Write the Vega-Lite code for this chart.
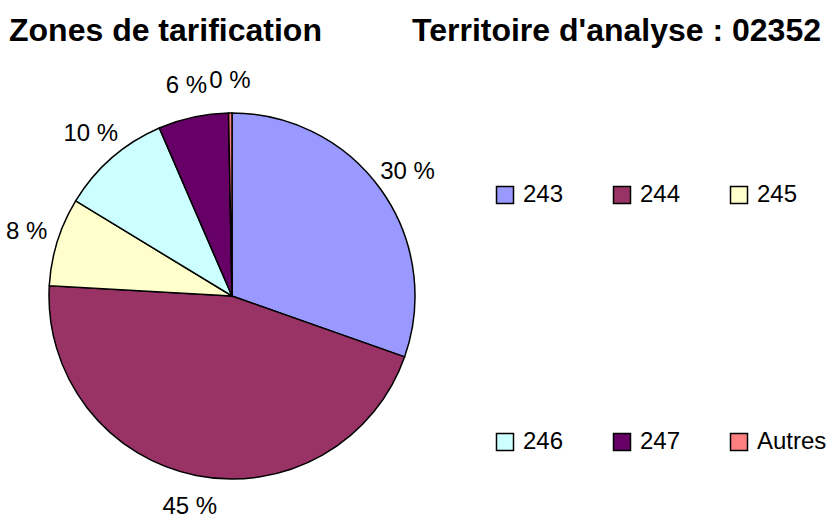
{
  "$schema": "https://vega.github.io/schema/vega-lite/v6.json",
  "autosize": {"type": "none"},
  "width": 464,
  "height": 440,
  "padding": {"left": 0, "top": 76, "right": 366, "bottom": 0},
  "background": "white",
  "title": {
    "text": "Zones de tarification",
    "anchor": "start",
    "frame": "group",
    "font": "Liberation Sans",
    "fontSize": 32,
    "fontWeight": "bold",
    "color": "black",
    "dx": 9,
    "offset": -32
  },
  "data": {
    "values": [
      {"zone": "243", "pct": 30.4, "rank": 1, "label": "30 %"},
      {"zone": "244", "pct": 45.5, "rank": 2, "label": "45 %"},
      {"zone": "245", "pct": 7.8, "rank": 3, "label": "8 %"},
      {"zone": "246", "pct": 9.8, "rank": 4, "label": "10 %"},
      {"zone": "247", "pct": 6.2, "rank": 5, "label": "6 %"},
      {"zone": "Autres", "pct": 0.3, "rank": 6, "label": "0 %"}
    ]
  },
  "encoding": {
    "theta": {"field": "pct", "type": "quantitative", "stack": true},
    "order": {"field": "rank", "type": "quantitative", "sort": "ascending"}
  },
  "layer": [
    {
      "mark": {"type": "arc", "outerRadius": 183, "stroke": "black", "strokeWidth": 1.5},
      "encoding": {
        "fill": {
          "field": "zone",
          "type": "nominal",
          "scale": {
            "domain": ["243", "244", "245", "246", "247", "Autres"],
            "range": ["#9999FF", "#993366", "#FFFFCC", "#CCFFFF", "#660066", "#FF8080"]
          },
          "legend": {
            "title": "Territoire d'analyse : 02352",
            "orient": "none",
            "legendX": 412,
            "legendY": -60,
            "direction": "horizontal",
            "columns": 3,
            "padding": 0,
            "titleFont": "Liberation Sans",
            "titleFontSize": 32,
            "titleFontWeight": "bold",
            "titleColor": "black",
            "titlePadding": 135,
            "titleLimit": 1000,
            "labelFont": "Liberation Sans",
            "labelFontSize": 24,
            "labelColor": "black",
            "labelOffset": 6,
            "labelLimit": 200,
            "symbolType": "square",
            "symbolSize": 289,
            "symbolStrokeColor": "black",
            "symbolStrokeWidth": 1.5,
            "symbolOpacity": 1,
            "columnPadding": 46,
            "rowPadding": 223,
            "encode": {"title": {"update": {"dx": {"value": -81}}}}
          }
        }
      }
    },
    {
      "mark": {"type": "text", "radius": 215, "font": "Liberation Sans", "fontSize": 24, "color": "black"},
      "encoding": {"text": {"field": "label", "type": "nominal"}}
    }
  ],
  "config": {"view": {"stroke": null}}
}
